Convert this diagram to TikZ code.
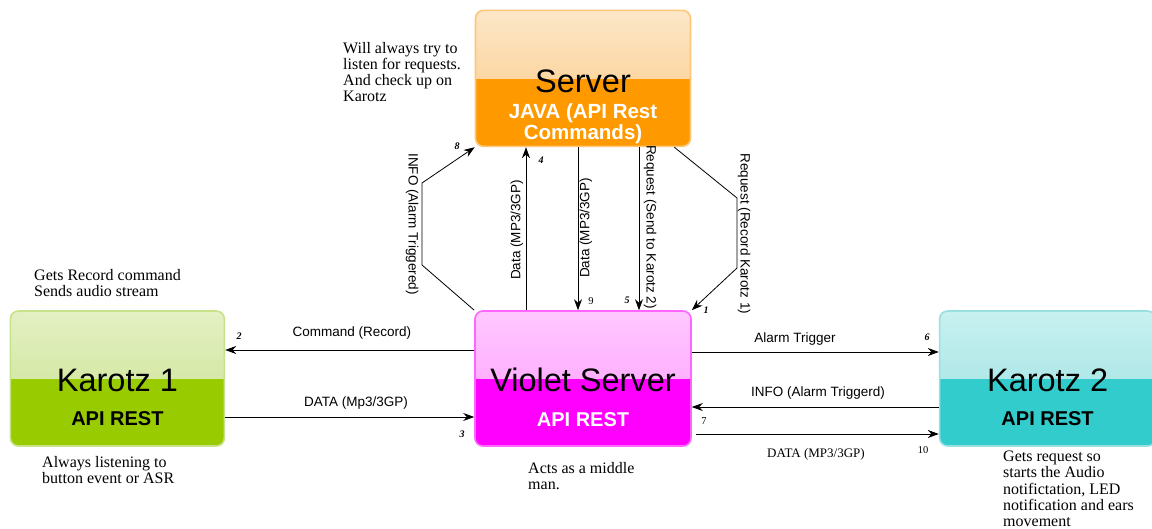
\documentclass[tikz,border=0pt]{standalone}
\usepackage{fontspec}
\setmainfont{Liberation Serif}
\setsansfont{Liberation Sans}
\usetikzlibrary{arrows.meta,calc,positioning}

\definecolor{orgline}{HTML}{FDC77A}
\definecolor{orgtop}{HTML}{FCE7C8}
\definecolor{orgmid}{HTML}{FBC77F}
\definecolor{orgbot}{HTML}{FF9900}
\definecolor{grnline}{HTML}{C8E28A}
\definecolor{grntop}{HTML}{E3F0C4}
\definecolor{grnmid}{HTML}{C9E18A}
\definecolor{grnbot}{HTML}{99CC00}
\definecolor{pnkline}{HTML}{FF66FF}
\definecolor{pnktop}{HTML}{FFC8FF}
\definecolor{pnkmid}{HTML}{FF99FF}
\definecolor{pnkbot}{HTML}{FF00FF}
\definecolor{cynline}{HTML}{99E0E0}
\definecolor{cyntop}{HTML}{C8F0F0}
\definecolor{cynmid}{HTML}{99E0E0}
\definecolor{cynbot}{HTML}{33CCCC}

\tikzset{
	glass/.style n args={4}{rectangle, rounded corners=8pt, draw=#1, line width=1.6pt, fill=#4,
		minimum width=215pt, minimum height=135pt,
		path picture={\shade[sharp corners, top color=#2, bottom color=#3]
			(path picture bounding box.north west) rectangle (path picture bounding box.east);}},
	title/.style={font=\sffamily\fontsize{32.5}{34}\selectfont, inner sep=0pt},
	sub/.style={font=\sffamily\bfseries\fontsize{20}{22}\selectfont, align=center, inner sep=0pt},
	arr/.style={-{Stealth[length=11pt,width=8pt]}, line width=0.8pt},
	lbl/.style={font=\sffamily\fontsize{13.5}{15}\selectfont, inner sep=0pt},
	num/.style={font=\bfseries\itshape\fontsize{10}{12}\selectfont, inner sep=0pt},
	rnum/.style={font=\fontsize{10.5}{12}\selectfont, inner sep=0pt},
	note/.style={font=\fontsize{16}{16.2}\selectfont, align=left, anchor=north west, inner sep=0pt},
}

\begin{document}
\begin{tikzpicture}[x=1pt, y=-1pt]
			\useasboundingbox (0,0) rectangle (1152,529);
			% Boxes
			\node[glass={pnkline}{pnktop}{pnkmid}{pnkbot}, minimum width=216pt] (vs) at (583,378.5) {};
			\node[glass={grnline}{grntop}{grnmid}{grnbot}, minimum width=214pt, left=249pt of vs] (k1) {};
			\node[glass={cynline}{cyntop}{cynmid}{cynbot}, minimum width=216pt, right=247pt of vs] (k2) {};
			\node[glass={orgline}{orgtop}{orgmid}{orgbot}, minimum height=136pt, above=163pt of vs] (sv) {};
			% Box texts
			\node[title] (svt) at ($(sv.center)+(0,3)$) {Server};
			\node[sub, text=white, font=\sffamily\bfseries\fontsize{20.5}{21}\selectfont] (svs) at ($(sv.center)+(0,45)$) {JAVA (API Rest\\Commands)};
			\node[title] (k1t) at ($(k1.center)+(0,1.5)$) {Karotz 1};
			\node[sub] (k1s) at ($(k1.center)+(0,40)$) {API REST};
			\node[title] (vst) at ($(vs.center)+(0,1.5)$) {Violet Server};
			\node[sub, text=white] (vss) at ($(vs.center)+(0,41)$) {API REST};
			\node[title] (k2t) at ($(k2.center)+(0,1.5)$) {Karotz 2};
			\node[sub] (k2s) at ($(k2.center)+(0,40)$) {API REST};
			% Bends
			\coordinate (b8a) at (422,265);
			\coordinate (b8b) at (422,183);
			\coordinate (b1a) at (737,198);
			\coordinate (b1b) at (737,268);
			% Connectors server <-> violet
			\draw[arr] (vs.north west) -- (b8a) -- (b8b) -- (sv.south west);
			\draw[arr] ([xshift=-57pt]vs.north) -- ([xshift=-57pt]sv.south);
			\draw[arr] ([xshift=-5pt]sv.south) -- ([xshift=-5pt]vs.north);
			\draw[arr] ([xshift=56pt]sv.south) -- ([xshift=56pt]vs.north);
			\draw[arr] ([xshift=-17pt]sv.south east) -- (b1a) -- (b1b) -- (vs.north east);
			% Connectors karotz <-> violet
			\draw[arr] ([yshift=28.5pt]vs.west) -- ([yshift=28.5pt]k1.east);
			\draw[arr] ([yshift=-38.5pt]k1.east) -- ([yshift=-38.5pt]vs.west);
			\draw[arr] ([yshift=26.5pt]vs.east) -- ([yshift=26.5pt]k2.west);
			\draw[arr] ([yshift=-28.5pt]k2.west) -- ([yshift=-28.5pt]vs.east);
			\draw[arr] ([yshift=-55.5pt,xshift=4pt]vs.east) -- ([yshift=-55.5pt]k2.west);
			% Labels
			\node[lbl, rotate=-90] (l8) at (412,224) {INFO (Alarm Triggered)};
			\node[lbl, rotate=90] (l4) at (517,230) {Data (MP3/3GP)};
			\node[lbl, rotate=90] (l9) at (586,228) {Data (MP3/3GP)};
			\node[lbl, rotate=-90] (l5) at (650,227) {Request (Send to Karotz 2)};
			\node[lbl, rotate=-90] (l1) at (744,234) {Request (Record Karotz 1)};
			\node[lbl] (l2) at (352,333) {Command (Record)};
			\node[lbl] (l3) at (356,403) {DATA (Mp3/3GP)};
			\node[lbl] (l6) at (795,339) {Alarm Trigger};
			\node[lbl] (l7) at (818,393) {INFO (Alarm Triggerd)};
			\node[font=\fontsize{13}{14}\selectfont, inner sep=0pt] (l10) at (816,454) {DATA (MP3/3GP)};
			% Step numbers
			\node[num] (n8) at (457,146) {8};
			\node[num] (n4) at (541,160) {4};
			\node[rnum] (n9) at (591,301) {9};
			\node[num] (n5) at (627,300) {5};
			\node[num] (n1) at (706,310) {1};
			\node[num] (n2) at (239,336) {2};
			\node[num] (n3) at (462,434) {3};
			\node[num] (n6) at (927,337) {6};
			\node[rnum] (n7) at (704,421) {7};
			\node[rnum] (n10) at (923,450) {10};
			% Notes
			\node[note] (nsv) at (343,42) {Will always try to\\listen for requests.\\And check up on\\Karotz};
			\node[note] (nk1a) at (34,269) {Gets Record command\\Sends audio stream};
			\node[note] (nk1b) at (42,456) {Always listening to\\button event or ASR};
			\node[note] (nvs) at (528,462) {Acts as a middle\\man.};
			\node[note] (nk2) at (1003,451) {Gets request so\\starts the Audio\\notifictation, LED\\notification and ears\\movement};
		\end{tikzpicture}
\end{document}
